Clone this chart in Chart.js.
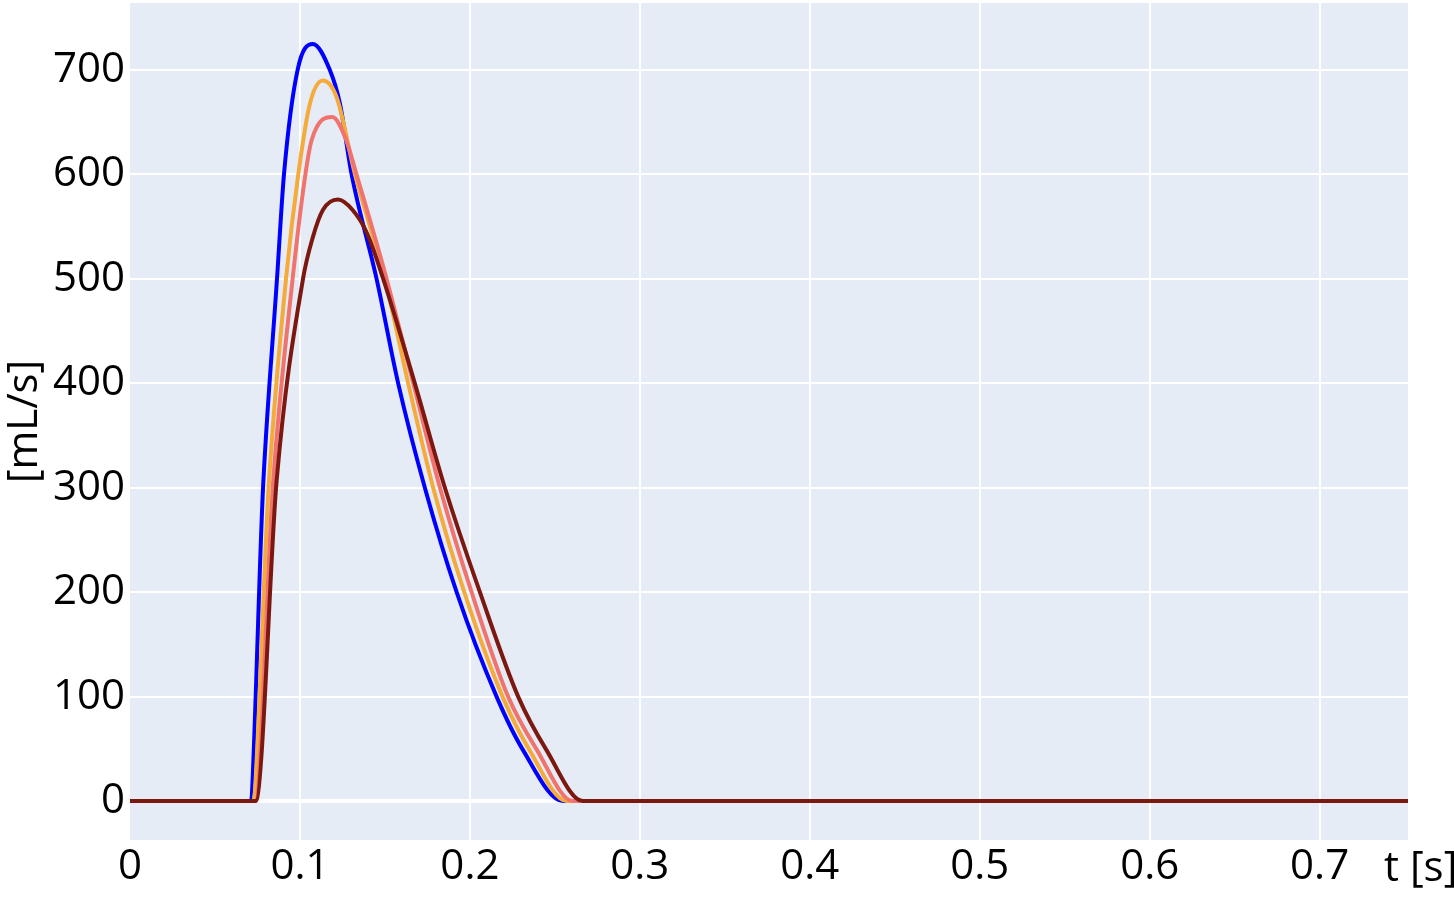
<!DOCTYPE html>
<html>
<head>
<meta charset="utf-8">
<script src="https://cdn.jsdelivr.net/npm/chart.js@4/dist/chart.umd.min.js"></script>
<style>
  body { margin: 0; background: #fff; }
  #wrap { width: 1454px; height: 898px; }
</style>
</head>
<body>
<div id="wrap"><canvas id="chart" width="1454" height="898"></canvas></div>
<script>
// flow curves: time [s] and flow [mL/s]
const tBlue = [0, 0.0703, 0.0785, 0.0865, 0.0906, 0.0986, 0.1076, 0.1176, 0.1235, 0.1304, 0.1451, 0.1578, 0.1735, 0.1922, 0.2157, 0.2312, 0.2547, 0.752];
const vBlue = [0, 0, 307, 500, 600, 700, 725, 700, 668, 600, 500, 400, 300, 200, 100, 49, 0, 0];

const tOrange = [0, 0.0718, 0.0818, 0.0918, 0.099, 0.1059, 0.1135, 0.1216, 0.1324, 0.150, 0.1637, 0.1784, 0.1967, 0.2192, 0.235, 0.257, 0.752];
const vOrange = [0, 0, 307, 500, 600, 668, 690, 674, 600, 500, 400, 300, 200, 100, 49, 0, 0];

const tPink = [0, 0.0735, 0.0843, 0.0957, 0.1032, 0.1069, 0.119, 0.1265, 0.1333, 0.151, 0.1667, 0.1824, 0.201, 0.2225, 0.2394, 0.2606, 0.752];
const vPink = [0, 0, 307, 500, 600, 633, 655, 636, 600, 500, 400, 300, 200, 100, 49, 0, 0];

const tDark = [0, 0.074, 0.0863, 0.1018, 0.1076, 0.1135, 0.1224, 0.131, 0.1394, 0.149, 0.1676, 0.1853, 0.2059, 0.2284, 0.245, 0.2665, 0.752];
const vDark = [0, 0, 307, 500, 540, 566, 576, 566, 544, 500, 400, 300, 200, 100, 49, 0, 0];

const xTicks = [0, 0.1, 0.2, 0.3, 0.4, 0.5, 0.6, 0.7];
const yTicks = [0, 100, 200, 300, 400, 500, 600, 700];

const FONT = "'Open Sans', 'Liberation Sans', sans-serif";

function pts(ts, vs) {
  return ts.map((t, i) => ({ x: t, y: vs[i] }));
}

function line(ts, vs, color) {
  return {
    data: pts(ts, vs),
    borderColor: color,
    borderWidth: 4,
    pointRadius: 0,
    fill: false,
    cubicInterpolationMode: "monotone",
  };
}

// plot background + the "t [s]" label at the end of the x axis
const plotBg = {
  id: "plotBg",
  beforeDraw(chart) {
    const { ctx, chartArea: a } = chart;
    ctx.save();
    ctx.fillStyle = "#E5ECF6";
    ctx.fillRect(a.left, a.top, a.right - a.left, a.bottom - a.top);
    ctx.restore();
  },
  afterDraw(chart) {
    const ctx = chart.ctx;
    ctx.save();
    ctx.font = "42px " + FONT;
    ctx.fillStyle = "#000";
    ctx.textAlign = "left";
    ctx.textBaseline = "alphabetic";
    ctx.fillText("t [s]", 1384, 881);
    ctx.restore();
  },
};

new Chart(document.getElementById("chart"), {
  type: "line",
  data: {
    // first dataset is painted last (on top)
    datasets: [
      line(tDark, vDark, "#7D1810"),
      line(tPink, vPink, "#F0736E"),
      line(tOrange, vOrange, "#F5AA3C"),
      line(tBlue, vBlue, "#0000FF"),
    ],
  },
  options: {
    responsive: false,
    animation: false,
    layout: { padding: { left: 0, right: 46, top: 3, bottom: 0 } },
    plugins: { legend: { display: false }, tooltip: { enabled: false } },
    scales: {
      x: {
        type: "linear",
        min: 0,
        max: 0.752,
        afterFit: (s) => { s.height = 58; s.paddingLeft = 0; s.paddingRight = 0; },
        afterBuildTicks: (s) => { s.ticks = xTicks.map((v) => ({ value: v })); },
        ticks: {
          color: "#000",
          font: { family: FONT, size: 42 },
          padding: 2,
          maxRotation: 0,
          autoSkip: false,
          callback: (v) => (v === 0 ? "0" : Number(v).toFixed(1)),
        },
        grid: {
          color: (c) => (c.tick && c.tick.value === 0 ? "rgba(0,0,0,0)" : "#fff"),
          lineWidth: 2,
          drawTicks: false,
        },
        border: { display: false },
      },
      y: {
        min: -37.3,
        max: 764.2,
        afterFit: (s) => { s.width = 130; s.paddingTop = 0; s.paddingBottom = 0; },
        afterBuildTicks: (s) => { s.ticks = yTicks.map((v) => ({ value: v })); },
        ticks: {
          color: "#000",
          font: { family: FONT, size: 42 },
          padding: 5,
          autoSkip: false,
        },
        grid: {
          color: "#fff",
          lineWidth: (c) => (c.tick && c.tick.value === 0 ? 4 : 2),
          drawTicks: false,
        },
        border: { display: false },
        title: {
          display: true,
          text: "[mL/s]",
          color: "#000",
          font: { family: FONT, size: 42 },
          padding: 0,
        },
      },
    },
  },
  plugins: [plotBg],
});
</script>
</body>
</html>
